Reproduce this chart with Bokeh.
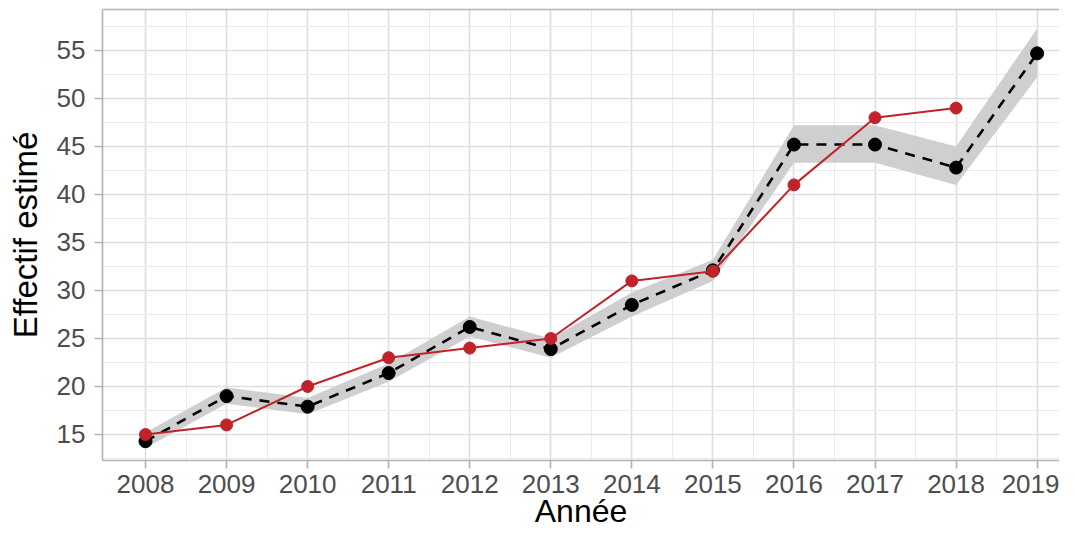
from bokeh.plotting import figure
from bokeh.models import FixedTicker, Range1d, LinearAxis, ColumnDataSource
from bokeh.embed import file_html
from bokeh.resources import INLINE

years = [2008, 2009, 2010, 2011, 2012, 2013, 2014, 2015, 2016, 2017, 2018, 2019]
estimate = [14.3, 19.0, 17.9, 21.4, 26.2, 23.9, 28.5, 32.1, 45.2, 45.2, 42.8, 54.7]
lower = [13.6, 18.2, 17.1, 20.5, 25.2, 23.0, 27.3, 31.0, 43.3, 43.3, 41.0, 52.2]
upper = [15.2, 19.9, 18.8, 22.4, 27.3, 25.0, 29.8, 33.2, 47.2, 47.2, 45.0, 57.3]

years_obs = [2008, 2009, 2010, 2011, 2012, 2013, 2014, 2015, 2016, 2017, 2018]
observed = [15.0, 16.0, 20.0, 23.0, 24.0, 25.0, 31.0, 32.0, 41.0, 48.0, 49.0]

y_ticks = [15, 20, 25, 30, 35, 40, 45, 50, 55]
y_minor = [12.5, 17.5, 22.5, 27.5, 32.5, 37.5, 42.5, 47.5, 52.5, 57.5]
x_minor = [y + 0.5 for y in years[:-1]]

FONT = "Liberation Sans"
BORDER = "#B3B3B3"

p = figure(width=1059, height=533, output_backend="svg", toolbar_location=None,
           x_range=Range1d(2007.4695, 2019.276), y_range=Range1d(12.29, 59.27),
           min_border_left=102, min_border_right=0, min_border_top=9, min_border_bottom=73)
p.outline_line_color = None
p.background_fill_color = "white"
p.border_fill_color = "white"

est = ColumnDataSource(dict(x=years, y=estimate, lo=lower, hi=upper))
obs = ColumnDataSource(dict(x=years_obs, y=observed))

p.varea(x="x", y1="lo", y2="hi", source=est, fill_color="#CCCCCC", fill_alpha=0.95)
p.line("x", "y", source=est, line_color="black", line_width=2.6, line_dash="10 8")
p.scatter("x", "y", source=est, size=13, fill_color="black", line_color="black")
p.line("x", "y", source=obs, line_color="#C1232B", line_width=2)
p.scatter("x", "y", source=obs, size=12, fill_color="#C1232B", line_color="#C1232B")

p.xaxis.ticker = FixedTicker(ticks=years, minor_ticks=x_minor)
p.yaxis.ticker = FixedTicker(ticks=y_ticks, minor_ticks=y_minor)
for g in (p.xgrid, p.ygrid):
    g.grid_line_color = "#DEDEDE"
    g.grid_line_width = 1.6
    g.minor_grid_line_color = "#EBEBEB"
    g.minor_grid_line_width = 1

for ax in (p.xaxis, p.yaxis):
    ax.axis_line_color = BORDER
    ax.axis_line_width = 1.6
    ax.major_tick_line_color = BORDER
    ax.major_tick_line_width = 1.6
    ax.major_tick_out = 8
    ax.major_tick_in = 0
    ax.minor_tick_out = 0
    ax.minor_tick_in = 0
    ax.major_label_text_font = FONT
    ax.major_label_text_font_size = "26px"
    ax.major_label_text_color = "#4D4D4D"
    ax.axis_label_text_font = FONT
    ax.axis_label_text_font_style = "normal"
    ax.axis_label_text_color = "black"

p.xaxis.axis_label = "Année"
p.yaxis.axis_label = "Effectif estimé"
p.xaxis.axis_label_text_font_size = "32px"
p.yaxis.axis_label_text_font_size = "33px"
p.xaxis.major_label_standoff = 6
p.xaxis.axis_label_standoff = -3
p.yaxis.major_label_standoff = 9
p.yaxis.axis_label_standoff = 10

top = LinearAxis(ticker=FixedTicker(ticks=[]), major_label_text_font_size="0px",
                 axis_line_color=BORDER, axis_line_width=1.6,
                 major_tick_out=0, minor_tick_out=0, major_tick_in=0, minor_tick_in=0)
p.add_layout(top, "above")

open("out.html", "w").write(file_html(p, INLINE))
